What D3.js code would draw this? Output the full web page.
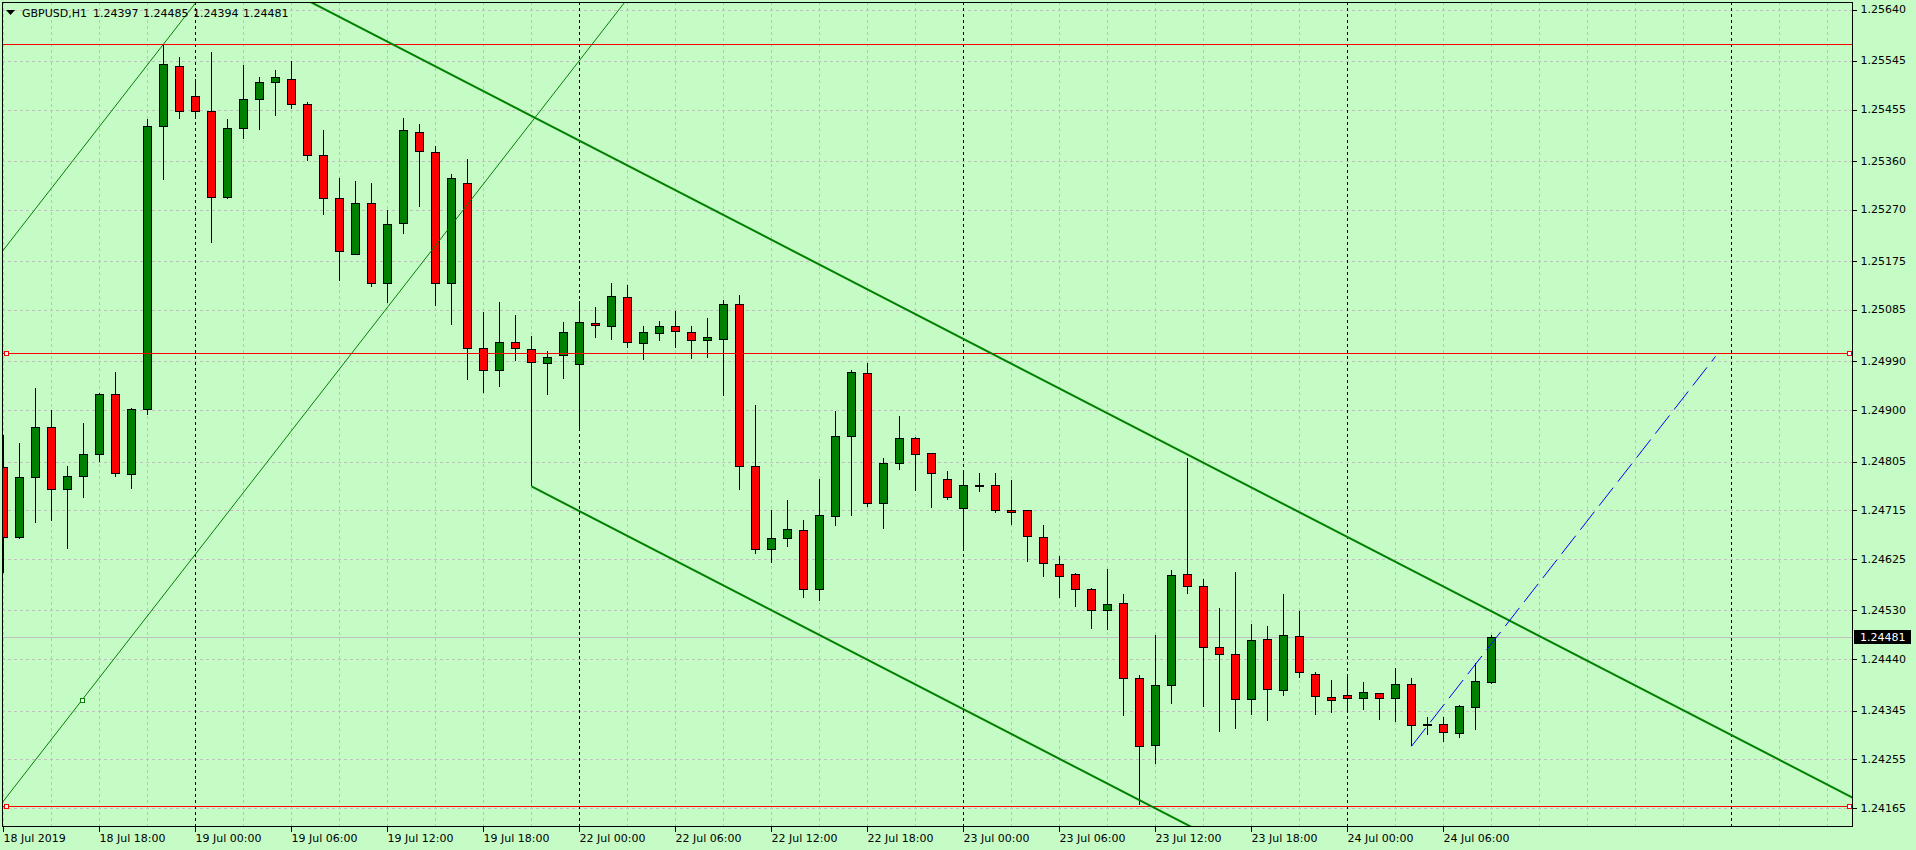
<!DOCTYPE html>
<meta charset="utf-8">
<head>
  <meta charset="utf-8">
  <title>GBPUSD,H1</title>
  <style>
  body {
    margin: 0;
    background: #c5fbc5;
    overflow: hidden;
  }
  svg {
    display: block;
  }
  text {
    font-family: "DejaVu Sans", sans-serif;
    font-size: 11px;
    fill: #000;
  }
  .grid line {
    stroke: #c0c0c0;
    stroke-dasharray: 3,3;
    shape-rendering: crispEdges;
  }
  .axis line {
    stroke: #000;
    shape-rendering: crispEdges;
  }
  </style>
</head>

<body>
<div id="chart"></div>

<script src="https://d3js.org/d3.v7.min.js"></script>
<script>

// hourly bars, 18 Jul 2019 12:00 .. 24 Jul 2019 09:00
var openP = [1.24795, 1.24665, 1.24777, 1.24869, 1.24754, 1.24778, 1.24819, 1.24930, 1.24782, 1.24902,
             1.25424, 1.25535, 1.25480, 1.25453, 1.25294, 1.25422, 1.25474, 1.25506, 1.25511, 1.25465,
             1.25372, 1.25291, 1.25189, 1.25282, 1.25134, 1.25246, 1.25414, 1.25377, 1.25135, 1.25320,
             1.25014, 1.24975, 1.25026, 1.25012, 1.24987, 1.25001, 1.24985, 1.25061, 1.25055, 1.25109,
             1.25024, 1.25042, 1.25055, 1.25045, 1.25029, 1.25031, 1.25096, 1.24796, 1.24644, 1.24663,
             1.24679, 1.24570, 1.24705, 1.24853, 1.24969, 1.24729, 1.24803, 1.24849, 1.24820, 1.24773,
             1.24720, 1.24761, 1.24761, 1.24716, 1.24715, 1.24665, 1.24615, 1.24598, 1.24569, 1.24530,
             1.24543, 1.24406, 1.24281, 1.24392, 1.24597, 1.24575, 1.24462, 1.24449, 1.24366, 1.24477,
             1.24383, 1.24482, 1.24412, 1.24370, 1.24373, 1.24368, 1.24377, 1.24368, 1.24394, 1.24319,
             1.24320, 1.24303, 1.24351, 1.24397];
var highP = [1.24854, 1.24840, 1.24940, 1.24901, 1.24797, 1.24877, 1.24932, 1.24971, 1.24903, 1.25438,
             1.25576, 1.25553, 1.25512, 1.25562, 1.25438, 1.25537, 1.25516, 1.25528, 1.25544, 1.25469,
             1.25417, 1.25329, 1.25323, 1.25319, 1.25269, 1.25440, 1.25428, 1.25387, 1.25337, 1.25363,
             1.25082, 1.25100, 1.25076, 1.25037, 1.25009, 1.25063, 1.25101, 1.25091, 1.25135, 1.25131,
             1.25055, 1.25065, 1.25083, 1.25055, 1.25071, 1.25103, 1.25113, 1.24909, 1.24715, 1.24734,
             1.24697, 1.24772, 1.24898, 1.24975, 1.24987, 1.24811, 1.24889, 1.24850, 1.24821, 1.24787,
             1.24790, 1.24783, 1.24783, 1.24770, 1.24716, 1.24687, 1.24630, 1.24600, 1.24571, 1.24606,
             1.24560, 1.24410, 1.24485, 1.24605, 1.24811, 1.24588, 1.24534, 1.24601, 1.24505, 1.24501,
             1.24561, 1.24529, 1.24416, 1.24401, 1.24412, 1.24397, 1.24378, 1.24423, 1.24405, 1.24333,
             1.24333, 1.24355, 1.24433, 1.24485];
var lowP = [1.24600, 1.24661, 1.24691, 1.24696, 1.24643, 1.24737, 1.24805, 1.24777, 1.24755, 1.24891,
            1.25325, 1.25438, 1.25438, 1.25209, 1.25290, 1.25401, 1.25418, 1.25444, 1.25457, 1.25360,
            1.25261, 1.25138, 1.25189, 1.25128, 1.25097, 1.25225, 1.25276, 1.25092, 1.25057, 1.24956,
            1.24931, 1.24942, 1.24991, 1.24759, 1.24927, 1.24958, 1.24864, 1.25034, 1.25030, 1.25014,
            1.24993, 1.25027, 1.25014, 1.24995, 1.24997, 1.24926, 1.24753, 1.24635, 1.24617, 1.24647,
            1.24553, 1.24548, 1.24686, 1.24705, 1.24721, 1.24681, 1.24790, 1.24751, 1.24719, 1.24734,
            1.24640, 1.24749, 1.24710, 1.24687, 1.24620, 1.24592, 1.24553, 1.24537, 1.24496, 1.24494,
            1.24335, 1.24170, 1.24246, 1.24358, 1.24560, 1.24351, 1.24305, 1.24311, 1.24337, 1.24325,
            1.24372, 1.24405, 1.24337, 1.24340, 1.24342, 1.24346, 1.24327, 1.24324, 1.24279, 1.24300,
            1.24287, 1.24294, 1.24309, 1.24394];
var closeP = [1.24665, 1.24777, 1.24869, 1.24754, 1.24778, 1.24819, 1.24930, 1.24784, 1.24902, 1.25424,
              1.25539, 1.25452, 1.25452, 1.25294, 1.25422, 1.25474, 1.25506, 1.25515, 1.25465, 1.25372,
              1.25291, 1.25194, 1.25282, 1.25134, 1.25243, 1.25417, 1.25379, 1.25135, 1.25329, 1.25014,
              1.24975, 1.25026, 1.25014, 1.24989, 1.24999, 1.25045, 1.25063, 1.25057, 1.25111, 1.25026,
              1.25044, 1.25055, 1.25046, 1.25029, 1.25035, 1.25096, 1.24796, 1.24644, 1.24663, 1.24681,
              1.24570, 1.24707, 1.24853, 1.24971, 1.24729, 1.24803, 1.24849, 1.24819, 1.24783, 1.24740,
              1.24761, 1.24761, 1.24716, 1.24712, 1.24667, 1.24617, 1.24594, 1.24569, 1.24530, 1.24541,
              1.24406, 1.24280, 1.24392, 1.24595, 1.24575, 1.24462, 1.24449, 1.24366, 1.24475, 1.24385,
              1.24484, 1.24416, 1.24372, 1.24364, 1.24368, 1.24379, 1.24368, 1.24394, 1.24318, 1.24320,
              1.24305, 1.24353, 1.24399, 1.24481];

// time axis labels, one every 6 bars
var xLabelBars = [0, 6, 12, 18, 24, 30, 36, 42, 48, 54, 60, 66, 72, 78, 84, 90];
var xLabels = ["18 Jul 2019", "18 Jul 18:00", "19 Jul 00:00", "19 Jul 06:00", "19 Jul 12:00",
               "19 Jul 18:00", "22 Jul 00:00", "22 Jul 06:00", "22 Jul 12:00", "22 Jul 18:00",
               "23 Jul 00:00", "23 Jul 06:00", "23 Jul 12:00", "23 Jul 18:00", "24 Jul 00:00",
               "24 Jul 06:00"];
// day separators (00:00 bars, last one is in the future)
var dayBars = [12, 36, 60, 84, 108];

// price axis labels
var yTicks = [1.25640, 1.25545, 1.25455, 1.25360, 1.25270, 1.25175, 1.25085, 1.24990, 1.24900,
              1.24805, 1.24715, 1.24625, 1.24530, 1.24440, 1.24345, 1.24255, 1.24165];

var lastPrice = 1.24481;
var symbol = "GBPUSD,H1";
var lastOHLC = ["1.24397", "1.24485", "1.24394", "1.24481"];

// horizontal levels
var hLevels = [
  {price: 1.25576, marks: false},
  {price: 1.25005, marks: true},
  {price: 1.24169, marks: true}
];

// trend lines: anchor bar + price, slope in price per bar, drawn from bar to bar
var thinLines = [
  {bar: 10, price: 1.25576, slope: 0.00038, from: -1, to: 13},
  {bar: 5, price: 1.24368, slope: 0.00038, from: -1, to: 40}
];
var channelLines = [
  {bar: 74, price: 1.24818, slope: -0.0001525, from: 0, to: 120},
  {bar: 33, price: 1.24759, slope: -0.0001525, from: 33, to: 120}
];
var blueLine = {bar: 88, price: 1.24279, slope: 0.000379, from: 88, to: 107};

var width = 1916,
    height = 850;
var plot = {left: 2, top: 2, right: 1852, bottom: 826};

// one hourly bar = 16px
var x = d3.scaleLinear()
  .domain([0, 1])
  .range([3.5, 19.5]);

var y = d3.scaleLinear()
  .domain([1.24165, 1.25640])
  .range([808, 9.5]);

var svg = d3.select("#chart")
  .append("svg")
    .attr("width", width)
    .attr("height", height);

svg.append("rect")
  .attr("width", width)
  .attr("height", height)
  .attr("fill", "#c5fbc5");

svg.append("clipPath")
    .attr("id", "plotClip")
  .append("rect")
    .attr("x", plot.left)
    .attr("y", plot.top)
    .attr("width", plot.right - plot.left)
    .attr("height", plot.bottom - plot.top);

var area = svg.append("g").attr("clip-path", "url(#plotClip)");

// grid
var grid = area.append("g").attr("class", "grid");
var gridBars = d3.range(0, 116, 3).filter(function(b) { return dayBars.indexOf(b) < 0; });
grid.selectAll(".vg")
  .data(gridBars)
  .enter()
  .append("line")
    .attr("x1", function(d) { return x(d); })
    .attr("x2", function(d) { return x(d); })
    .attr("y1", plot.top)
    .attr("y2", plot.bottom);
grid.selectAll(".hg")
  .data(yTicks)
  .enter()
  .append("line")
    .attr("x1", plot.left)
    .attr("x2", plot.right)
    .attr("y1", function(d) { return Math.round(y(d)) + 0.5; })
    .attr("y2", function(d) { return Math.round(y(d)) + 0.5; });

// day separators
area.selectAll(".day")
  .data(dayBars)
  .enter()
  .append("line")
    .attr("x1", function(d) { return x(d); })
    .attr("x2", function(d) { return x(d); })
    .attr("y1", plot.top)
    .attr("y2", plot.bottom)
    .attr("stroke", "#000")
    .attr("stroke-dasharray", "3,3")
    .attr("shape-rendering", "crispEdges");

// last price line
area.append("line")
  .attr("x1", plot.left)
  .attr("x2", plot.right)
  .attr("y1", Math.round(y(lastPrice)) + 0.5)
  .attr("y2", Math.round(y(lastPrice)) + 0.5)
  .attr("stroke", "#c0c0c0")
  .attr("shape-rendering", "crispEdges");

// candles
var idx = d3.range(openP.length);
area.append("g")
  .selectAll("line")
  .data(idx)
  .enter()
  .append("line")
    .attr("x1", function(d) { return x(d); })
    .attr("x2", function(d) { return x(d); })
    .attr("y1", function(d) { return y(highP[d]); })
    .attr("y2", function(d) { return y(lowP[d]); })
    .attr("stroke", "#000")
    .attr("shape-rendering", "crispEdges");

area.append("g")
  .selectAll("rect")
  .data(idx)
  .enter()
  .append("rect")
    .attr("x", function(d) { return x(d) - 4; })
    .attr("width", 8)
    .attr("y", function(d) { return Math.round(y(Math.max(openP[d], closeP[d]))) + 0.5; })
    .attr("height", function(d) {
      var h = Math.round(y(Math.min(openP[d], closeP[d]))) - Math.round(y(Math.max(openP[d], closeP[d])));
      return Math.max(1, h);
    })
    .attr("fill", function(d) { return closeP[d] >= openP[d] ? "#008000" : "#ff0000"; })
    .attr("stroke", "#000")
    .attr("shape-rendering", "crispEdges");

// horizontal red levels
hLevels.forEach(function(l) {
  var yy = Math.round(y(l.price)) + 0.5;
  area.append("line")
    .attr("x1", plot.left)
    .attr("x2", plot.right)
    .attr("y1", yy)
    .attr("y2", yy)
    .attr("stroke", "#ff0000")
    .attr("shape-rendering", "crispEdges");
  if (l.marks) {
    [4, plot.right - 5].forEach(function(mx) {
      area.append("rect")
        .attr("x", mx + 0.5)
        .attr("y", yy - 2)
        .attr("width", 4)
        .attr("height", 4)
        .attr("fill", "#fff")
        .attr("stroke", "#ff0000")
        .attr("shape-rendering", "crispEdges");
    });
  }
});

function lineAt(l, b) { return l.price + (b - l.bar) * l.slope; }

thinLines.forEach(function(l) {
  area.append("line")
    .attr("x1", x(l.from))
    .attr("y1", y(lineAt(l, l.from)))
    .attr("x2", x(l.to))
    .attr("y2", y(lineAt(l, l.to)))
    .attr("stroke", "#008000")
    .attr("stroke-width", 1);
});
// anchor point on the lower thin line
area.append("rect")
  .attr("x", 80.5)
  .attr("y", Math.round(y(lineAt(thinLines[1], 4.9))) - 1.5)
  .attr("width", 4)
  .attr("height", 4)
  .attr("fill", "#fff")
  .attr("stroke", "#008000")
  .attr("shape-rendering", "crispEdges");

channelLines.forEach(function(l) {
  area.append("line")
    .attr("x1", x(l.from))
    .attr("y1", y(lineAt(l, l.from)))
    .attr("x2", x(l.to))
    .attr("y2", y(lineAt(l, l.to)))
    .attr("stroke", "#008000")
    .attr("stroke-width", 2);
});

area.append("line")
  .attr("x1", x(blueLine.from))
  .attr("y1", y(lineAt(blueLine, blueLine.from)))
  .attr("x2", x(blueLine.to))
  .attr("y2", y(lineAt(blueLine, blueLine.to)))
  .attr("stroke", "#0000ff")
  .attr("stroke-width", 1)
  .attr("stroke-dasharray", "23,7.5");

// frame
svg.append("rect")
  .attr("x", plot.left + 0.5)
  .attr("y", plot.top + 0.5)
  .attr("width", plot.right - plot.left)
  .attr("height", plot.bottom - plot.top)
  .attr("fill", "none")
  .attr("stroke", "#000")
  .attr("shape-rendering", "crispEdges");

// price axis
var yAxis = svg.append("g")
  .attr("class", "axis")
  .attr("transform", "translate(" + (plot.right + 0.5) + ",0)")
  .call(d3.axisRight(y)
    .tickValues(yTicks)
    .tickSize(4)
    .tickPadding(4)
    .offset(0)
    .tickFormat(d3.format(".5f")));
yAxis.select(".domain").remove();
yAxis.attr("font-family", null).attr("font-size", null);
yAxis.selectAll(".tick line").attr("transform", "translate(0,0.5)");

// time axis
var xAxis = svg.append("g")
  .attr("class", "axis")
  .attr("transform", "translate(0," + (plot.bottom + 0.5) + ")")
  .call(d3.axisBottom(x)
    .tickValues(xLabelBars)
    .tickSize(5)
    .tickPadding(3)
    .offset(0)
    .tickFormat(function(d, i) { return xLabels[i]; }));
xAxis.select(".domain").remove();
xAxis.attr("font-family", null).attr("font-size", null);
xAxis.selectAll("text").attr("text-anchor", "start");

// last price tag
var ly = Math.round(y(lastPrice));
svg.append("rect")
  .attr("x", plot.right + 2)
  .attr("y", ly - 7)
  .attr("width", 57)
  .attr("height", 14)
  .attr("fill", "#000");
svg.append("text")
  .attr("x", plot.right + 8)
  .attr("y", ly + 4)
  .style("fill", "#fff")
  .text(d3.format(".5f")(lastPrice));

// header
svg.append("path")
  .attr("d", "M6,10 L15,10 L10.5,15 Z")
  .attr("fill", "#000");
svg.append("text")
  .attr("x", 22)
  .attr("y", 17)
  .text(symbol);
lastOHLC.forEach(function(v, i) {
  svg.append("text")
    .attr("x", 93 + i * 50)
    .attr("y", 17)
    .text(v);
});

</script>
</body>
